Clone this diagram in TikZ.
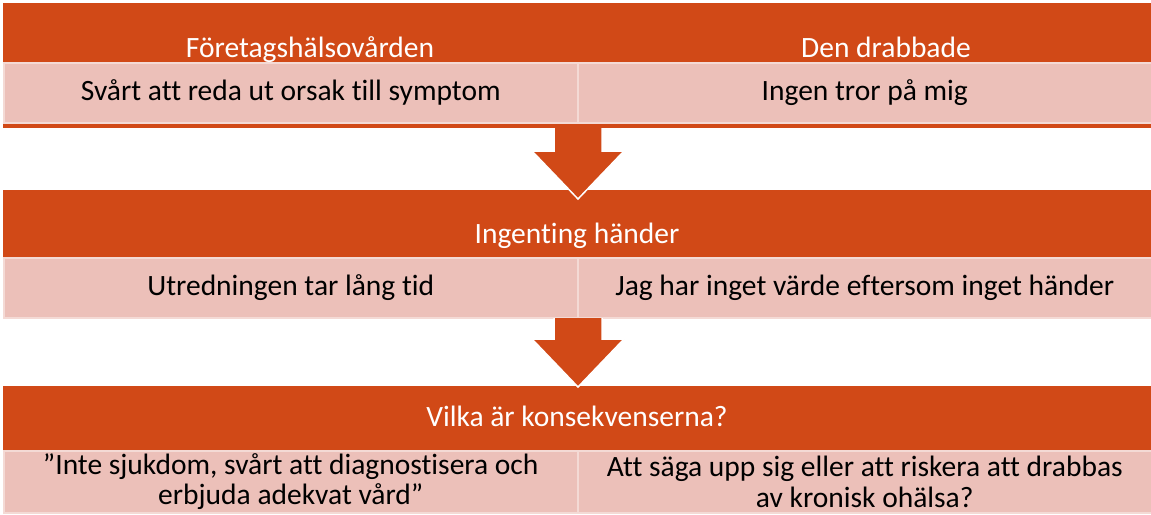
\documentclass[tikz,border=0pt]{standalone}
\usepackage{fontspec}
\setmainfont{Carlito}[Ligatures={NoCommon}]
\definecolor{rust}{RGB}{209,73,23}
\definecolor{blush}{RGB}{236,192,185}
\definecolor{blushline}{RGB}{244,218,213}
\tikzset{
    band/.style = {fill=rust, anchor=north west, inner sep=0, minimum width=1148pt},
    cell/.style = {fill=blush, draw=blushline, line width=1.5pt, anchor=north west, inner sep=0,
        minimum width=574pt, minimum height=60pt, align=center, font=\fontsize{29.5}{30.5}\selectfont},
    head/.style = {text=white, anchor=base, font=\fontsize{29.5}{30.5}\selectfont},
    blockarrow/.style = {fill=rust},
}
\begin{document}
\begin{tikzpicture}[x=1pt, y=-1pt]
    \useasboundingbox (0,0) rectangle (1151,514);
    % bands
    \node [band, minimum height=125pt] (band1) at (3,3) {};
    \node [band, minimum height=127pt] (band2) at (3,190) {};
    \node [band, minimum height=128pt] (band3) at (3,386) {};
    % headers
    \node [head] (hcare) at (310,57) {Företagshälsovården};
    \node [head] (hvictim) at (886,57) {Den drabbade};
    \node [head] (hnothing) at (577,243) {Ingenting händer};
    \node [head] (hresult) at (577,426) {Vilka är konsekvenserna?};
    % cells
    \node [cell] (care) at (3,62) {Svårt att reda ut orsak till symptom};
    \node [cell] (victim) at (577,62) {Ingen tror på mig};
    \node [cell] (slow) at (3,257) {Utredningen tar lång tid};
    \node [cell] (worth) at (577,257) {Jag har inget värde eftersom inget händer};
    \node [cell, minimum height=62pt] (diag) at (3,450) {”Inte sjukdom, svårt att diagnostisera och\\erbjuda adekvat vård”};
    \node [cell, minimum height=62pt] (quit) at (577,450) {Att säga upp sig eller att riskera att drabbas\\av kronisk ohälsa?};
    % arrows
    \fill [blockarrow] (554,127) -- (602,127) -- (602,151) -- (624,151) -- (578,199) -- (532,151) -- (554,151) -- cycle;
    \draw [white, line width=1.5pt] (602,128) -- (602,151) -- (624,151) -- (578,199) -- (532,151) -- (554,151) -- (554,128);
    \fill [blockarrow] (554,318) -- (602,318) -- (602,339) -- (624,339) -- (578,387) -- (532,339) -- (554,339) -- cycle;
    \draw [white, line width=1.5pt] (602,318) -- (602,339) -- (624,339) -- (578,387) -- (532,339) -- (554,339) -- (554,318);
\end{tikzpicture}
\end{document}
